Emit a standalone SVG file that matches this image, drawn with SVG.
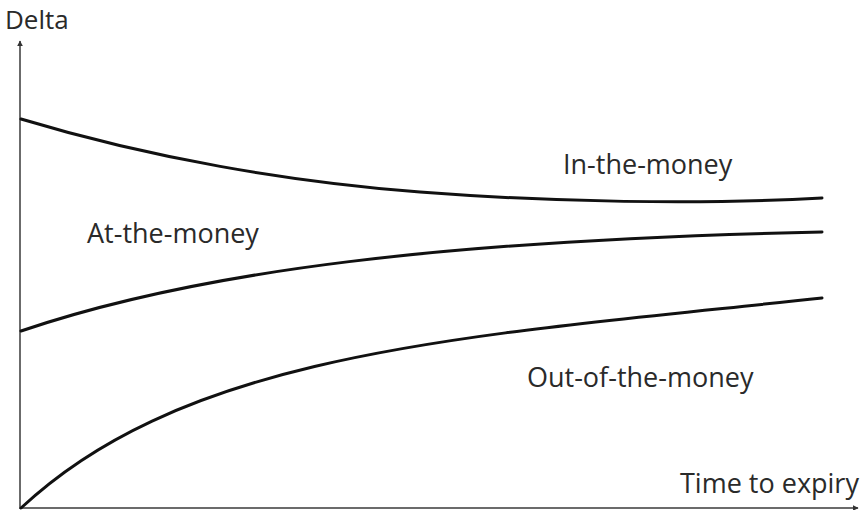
<svg xmlns="http://www.w3.org/2000/svg" width="862" height="510" viewBox="0 0 862 510">
  <defs>
    <style>
      .axis { stroke: #6b6b6b; stroke-width: 2; fill: none; }
      .curve { stroke: #111111; stroke-width: 3; fill: none; stroke-linecap: round; }
      .label { font-family: "Open Sans", "Liberation Sans", sans-serif; font-size: 27px; fill: #2a2a2a; }
    </style>
    <marker id="arrow" viewBox="0 0 10 10" refX="9" refY="5" markerWidth="3" markerHeight="3" orient="auto" markerUnits="strokeWidth">
      <path d="M0,0 L10,5 L0,10 z" fill="#333333"/>
    </marker>
  </defs>
  <rect width="862" height="510" fill="#ffffff"/>
  <g id="axes">
    <line class="axis" x1="20" y1="509" x2="20" y2="41" marker-end="url(#arrow)"/>
    <line class="axis" x1="19" y1="508" x2="858" y2="508" marker-end="url(#arrow)"/>
  </g>
  <g id="connectors">
    <path id="itm-curve" class="curve" d="M21,119 C150,158 290,182 420,192 C550,202 700,205 822,198"/>
    <path id="atm-curve" class="curve" d="M21,331 C200,270 450,240 822,232"/>
    <path id="otm-curve" class="curve" d="M21,508 C190,350 470,336 822,298"/>
  </g>
  <g id="label-delta"><text class="label" x="5" y="29" style="font-size:26px">Delta</text></g>
  <g id="label-itm"><text class="label" x="563" y="174">In-the-money</text></g>
  <g id="label-atm"><text class="label" x="87" y="243">At-the-money</text></g>
  <g id="label-otm"><text class="label" x="527" y="387">Out-of-the-money</text></g>
  <g id="label-time"><text class="label" x="680" y="493">Time to expiry</text></g>
</svg>
